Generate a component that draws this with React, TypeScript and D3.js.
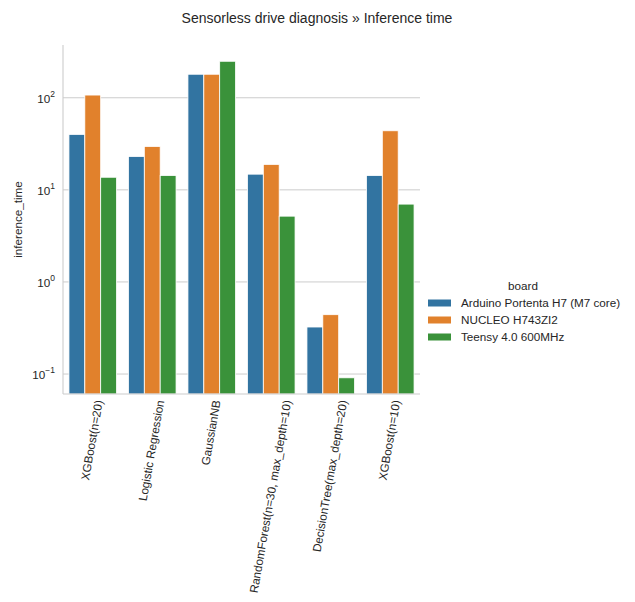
import { useMemo } from 'react'
import { scaleBand, scaleLog } from 'd3'

const MODELS = [
  'XGBoost(n=20)',
  'Logistic Regression',
  'GaussianNB',
  'RandomForest(n=30, max_depth=10)',
  'DecisionTree(max_depth=20)',
  'XGBoost(n=10)',
]
const BOARDS = ['Arduino Portenta H7 (M7 core)', 'NUCLEO H743ZI2', 'Teensy 4.0 600MHz']
const COLORS = ['#3274a1', '#e1812c', '#3a923a']

// inference time per model, one array per board
const PORTENTA = [40, 23, 180, 14.8, 0.324, 14.3]
const NUCLEO = [107, 29.6, 180, 18.9, 0.441, 43.8]
const TEENSY = [13.7, 14.3, 249, 5.18, 0.091, 7.0]
const SERIES = [PORTENTA, NUCLEO, TEENSY]

const Y_TICKS = [-1, 0, 1, 2]

const W = 635
const H = 602
const L = 63
const R = 420
const T = 45
const B = 394
const FONT = 'Liberation Sans, Arial, sans-serif'
const FS = 11.7
const INK = '#262626'
const GRID = '#cccccc'

function measure(text: string, size: number) {
  const c = document.createElement('canvas').getContext('2d')
  if (!c) return text.length * size * 0.55
  c.font = `${size}px ${FONT}`
  return c.measureText(text).width
}

export default function App() {
  const { x, y, inner } = useMemo(() => {
    const x = scaleBand<string>().domain(MODELS).range([L, R]).padding(0)
    const bw = x.bandwidth()
    const inner = scaleBand<number>().domain([0, 1, 2]).range([bw * 0.1, bw * 0.9]).padding(0)
    const y = scaleLog().domain([0.0607, 374]).range([B, T])
    return { x, y, inner }
  }, [])

  const labelLens = useMemo(() => MODELS.map((m) => measure(m, FS)), [])
  const rot = (-80 * Math.PI) / 180

  return (
    <svg
      width={W}
      height={H}
      viewBox={`0 0 ${W} ${H}`}
      style={{ position: 'absolute', left: 0, top: 0, background: '#fff' }}
      fontFamily={FONT}
    >
      <text x={317} y={23} textAnchor="middle" fontSize={14} fill={INK}>
        Sensorless drive diagnosis » Inference time
      </text>

      {/* grid */}
      {Y_TICKS.map((e) => (
        <line key={e} x1={L} x2={R} y1={y(10 ** e)} y2={y(10 ** e)} stroke={GRID} strokeWidth={1} />
      ))}

      {/* bars */}
      {MODELS.map((m, i) =>
        SERIES.map((s, j) => (
          <rect
            key={`${i}-${j}`}
            x={(x(m) ?? 0) + (inner(j) ?? 0)}
            y={y(s[i])}
            width={inner.bandwidth()}
            height={B - y(s[i])}
            fill={COLORS[j]}
            stroke="#fff"
            strokeWidth={0.8}
          />
        ))
      )}

      {/* spines */}
      <line x1={L} x2={L} y1={T} y2={B} stroke={GRID} strokeWidth={1.1} />
      <line x1={L} x2={R} y1={B} y2={B} stroke={GRID} strokeWidth={1.1} />

      {/* y tick labels */}
      {Y_TICKS.map((e) => (
        <text key={e} x={55} y={y(10 ** e) + 5} textAnchor="end" fontSize={FS} fill={INK}>
          10
          <tspan fontSize={8.5} dy={-6}>
            {e === -1 ? '\u22121' : String(e)}
          </tspan>
        </text>
      ))}
      <text
        transform={`translate(22 ${(T + B) / 2}) rotate(-90)`}
        textAnchor="middle"
        fontSize={FS}
        fill={INK}
      >
        inference_time
      </text>

      {/* x tick labels, rotated 80° */}
      {MODELS.map((m, i) => {
        const cx = (x(m) ?? 0) + x.bandwidth() / 2
        const len = labelLens[i]
        const offset = (len * Math.cos(rot) + 6.3) / 2
        return (
          <text
            key={m}
            transform={`translate(${cx + offset} ${B + 7}) rotate(-80)`}
            textAnchor="end"
            fontSize={FS}
            fill={INK}
          >
            {m}
          </text>
        )
      })}

      {/* legend */}
      <text x={523} y={290} textAnchor="middle" fontSize={FS} fill={INK}>
        board
      </text>
      {BOARDS.map((b, j) => (
        <g key={b} transform={`translate(428 ${303 + j * 17})`}>
          <rect x={0} y={-3.5} width={23} height={7} fill={COLORS[j]} />
          <text x={33} y={4} fontSize={FS} fill={INK}>
            {b}
          </text>
        </g>
      ))}
    </svg>
  )
}
